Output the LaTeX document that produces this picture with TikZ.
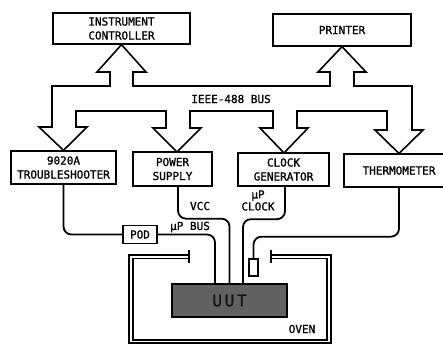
\documentclass[tikz,border=0pt]{standalone}
\usepackage{fontspec}
\newfontfamily\lab[FakeBold=1.2]{DejaVu Sans Mono}
\begin{document}
\begin{tikzpicture}[x=1pt,y=-1pt,
  box/.style={draw, line width=1.3pt, align=center, inner sep=0pt, font=\lab\fontsize{11}{14}\selectfont},
  lbl/.style={inner sep=0pt, align=center, font=\lab\fontsize{11}{12}\selectfont},
  cable/.style={line width=1.8pt, rounded corners=8pt},
  bus/.style={line width=1.6pt, line join=miter},
  ovenline/.style={line width=1.1pt}]
\useasboundingbox (0,0) rectangle (443,344);

% boxes
\node[box, minimum width=137pt, minimum height=31pt] (ctrl) at (121.5,28.5) {INSTRUMENT\\CONTROLLER};
\node[box, minimum width=138pt, minimum height=32pt] (printer) at (342,30) {PRINTER};
\node[box, minimum width=105pt, minimum height=33pt] (trouble) at (63.5,167.5) {9020A\\TROUBLESHOOTER};
\node[box, minimum width=79pt, minimum height=34pt] (psu) at (172.5,169) {POWER\\SUPPLY};
\node[box, minimum width=91pt, minimum height=33pt] (clock) at (283.5,169.5) {CLOCK\\GENERATOR};
\node[box, minimum width=110pt, minimum height=33pt] (thermo) at (399,170.5) {THERMOMETER};

% IEEE-488 bus outline
\draw[bus] (52,86) -- (110,86) -- (110,72) -- (97,72) -- (ctrl.south) -- (146,72) -- (133,72) -- (133,86)
  -- (330,86) -- (330,72) -- (318,72) -- (printer.south) -- (366,72) -- (354,72) -- (354,86)
  -- (412,86) -- (412,130) -- (423,130) -- (399,153.5) -- (375,130) -- (387,130) -- (387,111)
  -- (297,111) -- (297,128) -- (308,128) -- (284,153) -- (260,128) -- (273,128) -- (273,111)
  -- (190,111) -- (190,128) -- (201,128) -- (177,152) -- (153,128) -- (166,128) -- (166,111)
  -- (76,111) -- (76,127) -- (87,127) -- (trouble.north) -- (39,127) -- (52,127) -- cycle;
\node[lbl] (buslbl) at (231,99) {IEEE-488 BUS};

% UUT, POD, sensor
\node[draw, line width=1.3pt, fill=black!62, minimum width=115pt, minimum height=33pt, inner sep=0pt,
  font=\lab\fontsize{16}{16}\selectfont, text=black!92] (uut) at (229.5,300.5) {U\,U\,T};
\node[box, minimum width=34pt, minimum height=18pt] (pod) at (140,234.5) {POD};
\node[draw, line width=1.2pt, minimum width=9pt, minimum height=17pt, inner sep=0pt] (sensor) at (253.5,267.5) {};

% cables
\draw[cable] (trouble.south) |- (pod.west);
\draw[cable] (pod.east) -| ([xshift=-14.5pt]uut.north);
\draw[cable] ([xshift=5.5pt]psu.south) -- ++(0,32) -| (uut.north);
\draw[cable] ([xshift=1.5pt]clock.south) -- ++(0,32.5) -| ([xshift=13.5pt]uut.north);
\draw[cable] (thermo.south) -- ++(0,49) -| (sensor.north);

% cable labels
\node[lbl] (vcc) at (200,206) {VCC};
\node[lbl] (clk) at (258,200.5) {µP\\CLOCK};
\node[lbl] (upbus) at (190,227) {µP BUS};

% oven
\draw[ovenline] (189,255) -- (129,255) -- (129,343) -- (331,343) -- (331,255) -- (271,255);
\draw[ovenline, line width=1.4pt] (189,258.5) -- (133,258.5) -- (133,340) -- (327,340) -- (327,258.5) -- (271,258.5);
\draw[ovenline] (189,250) -- (189,263);
\draw[ovenline] (271,250) -- (271,263);
\node[lbl] (oven) at (302,329) {OVEN};
\end{tikzpicture}
\end{document}
